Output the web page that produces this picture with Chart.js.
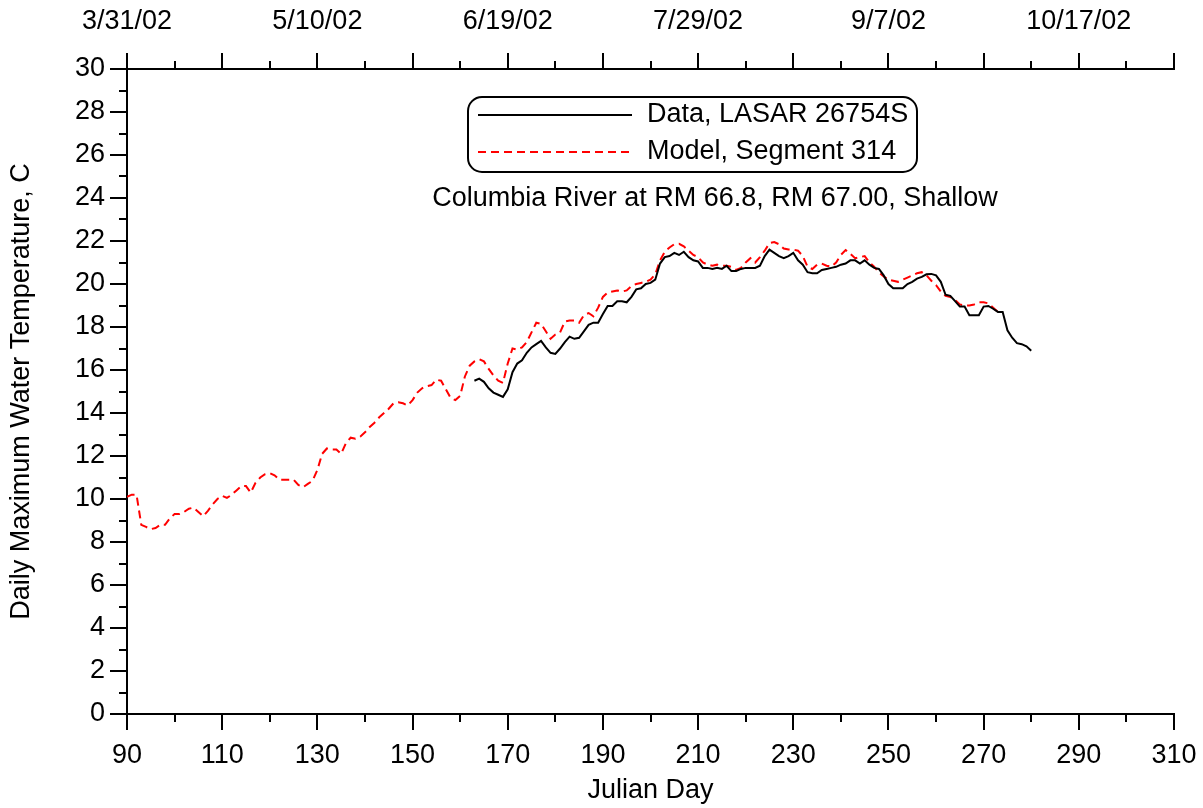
<!DOCTYPE html>
<html>
<head>
<meta charset="utf-8">
<title>Daily Maximum Water Temperature</title>
<script src="https://cdn.jsdelivr.net/npm/chart.js@4.4.1/dist/chart.umd.min.js"></script>
<style>
  html, body { margin: 0; padding: 0; background: #fff; }
  #wrap { width: 1203px; height: 808px; }
</style>
</head>
<body>
<div id="wrap"><canvas id="tempChart" width="1203" height="808"></canvas></div>
<script>
// Axis ticks
const dayTicks = [90, 110, 130, 150, 170, 190, 210, 230, 250, 270, 290, 310];
const dateTickDays = [90, 130, 170, 210, 250, 290];
const dateTickLabels = ['3/31/02', '5/10/02', '6/19/02', '7/29/02', '9/7/02', '10/17/02'];
const tempTicks = [0, 2, 4, 6, 8, 10, 12, 14, 16, 18, 20, 22, 24, 26, 28, 30];

// Model, Segment 314 - daily max, starting Julian day 90
const modelStartDay = 90;
const modelTemps = [
  10.1, 10.2, 10.2, 8.8, 8.7, 8.6, 8.65, 8.8, 8.8, 9.1,
  9.3, 9.3, 9.4, 9.55, 9.6, 9.4, 9.2, 9.45, 9.75, 10.0,
  10.15, 10.05, 10.2, 10.4, 10.6, 10.6, 10.3, 10.75, 11.0, 11.15,
  11.2, 11.1, 10.9, 10.9, 10.9, 10.9, 10.65, 10.55, 10.7, 10.85,
  11.35, 12.1, 12.35, 12.3, 12.3, 12.1, 12.6, 12.85, 12.8, 12.9,
  13.1, 13.35, 13.55, 13.8, 14.0, 14.2, 14.45, 14.5, 14.45, 14.35,
  14.6, 14.95, 15.15, 15.25, 15.3, 15.55, 15.5, 15.1, 14.7, 14.6,
  14.8, 15.7, 16.2, 16.4, 16.5, 16.4, 16.05, 15.75, 15.5, 15.4,
  16.3, 17.0, 16.95, 17.05, 17.3, 17.75, 18.2, 18.15, 17.8, 17.45,
  17.65, 17.75, 18.25, 18.3, 18.3, 18.2, 18.55, 18.65, 18.5, 18.9,
  19.4, 19.6, 19.65, 19.7, 19.65, 19.7, 19.9, 20.0, 20.05, 20.1,
  20.2, 20.45, 21.1, 21.5, 21.7, 21.85, 21.87, 21.75, 21.55, 21.35,
  21.25, 21.0, 20.9, 20.85, 20.9, 20.85, 20.85, 20.8, 20.65, 20.75,
  21.0, 21.2, 21.0, 21.25, 21.55, 21.9, 21.95, 21.85, 21.65, 21.6,
  21.6, 21.55, 21.3, 20.8, 20.7, 20.9, 20.95, 20.85, 20.8, 21.0,
  21.35, 21.58, 21.4, 21.2, 21.25, 21.3, 21.0, 20.8, 20.55, 20.35,
  20.2, 20.15, 20.1, 20.2, 20.3, 20.4, 20.5, 20.55, 20.4, 20.15,
  19.95, 19.65, 19.45, 19.4, 19.25, 19.05, 19.0, 19.0, 19.05, 19.15,
  19.15, 19.1, 18.9, 18.7
];

// Data, LASAR 26754S - daily max, starting Julian day 163
const dataStartDay = 163;
const dataTemps = [
  15.5, 15.6, 15.45, 15.15, 14.95, 14.85, 14.75, 15.1, 15.9, 16.3,
  16.45, 16.8, 17.05, 17.2, 17.35, 17.05, 16.8, 16.75, 17.0, 17.3,
  17.55, 17.45, 17.5, 17.8, 18.1, 18.2, 18.2, 18.6, 18.98, 18.98,
  19.2, 19.2, 19.15, 19.4, 19.75, 19.8, 20.0, 20.05, 20.2, 20.95,
  21.25, 21.3, 21.45, 21.35, 21.5, 21.25, 21.1, 21.05, 20.75, 20.75,
  20.7, 20.75, 20.7, 20.85, 20.6, 20.6, 20.7, 20.75, 20.75, 20.75,
  20.85, 21.3, 21.6, 21.45, 21.3, 21.2, 21.3, 21.45, 21.1, 20.9,
  20.55, 20.5, 20.5, 20.65, 20.7, 20.75, 20.8, 20.9, 20.95, 21.1,
  21.1, 20.95, 21.1, 20.9, 20.75, 20.7, 20.4, 20.0, 19.8, 19.8,
  19.8, 20.0, 20.1, 20.25, 20.33, 20.45, 20.47, 20.4, 20.1, 19.5,
  19.45, 19.2, 18.95, 18.95, 18.55, 18.55, 18.55, 18.95, 18.98, 18.85,
  18.7, 18.7, 17.85, 17.5, 17.25, 17.2, 17.1, 16.9
];

const seriesLabels = ['Data, LASAR 26754S', 'Model, Segment 314'];
const subtitle = 'Columbia River at RM 66.8, RM 67.00, Shallow';

const FONT = '"Liberation Sans", Arial, sans-serif';
const FONT_SIZE = 27;

function toPoints(startDay, temps) {
  return temps.map((t, i) => ({ x: startDay + i, y: t }));
}

// major / minor tick marks on left, bottom and top axes
const tickMarks = {
  id: 'tickMarks',
  afterDraw(chart) {
    const { ctx, chartArea: a, scales } = chart;
    ctx.save();
    ctx.strokeStyle = '#000';
    ctx.lineWidth = 2;
    ctx.beginPath();
    for (let v = 0; v <= 30; v++) {
      const py = Math.round(scales.y.getPixelForValue(v));
      const len = v % 2 === 0 ? 17 : 8;
      ctx.moveTo(a.left - len, py);
      ctx.lineTo(a.left, py);
    }
    for (let d = 90; d <= 310; d += 10) {
      const px = Math.round(scales.x.getPixelForValue(d));
      const len = (d - 90) % 20 === 0 ? 16 : 8;
      ctx.moveTo(px, a.bottom);
      ctx.lineTo(px, a.bottom + len);
      ctx.moveTo(px, a.top);
      ctx.lineTo(px, a.top - len);
    }
    ctx.stroke();
    ctx.restore();
  }
};

// rounded legend box and the location caption under it
const legendBox = {
  id: 'legendBox',
  afterDraw(chart) {
    const { ctx } = chart;
    const left = 468, top = 97, w = 449, h = 75;
    ctx.save();
    ctx.lineWidth = 2;
    ctx.strokeStyle = '#000';
    ctx.beginPath();
    ctx.roundRect(left, top, w, h, 14);
    ctx.stroke();
    ctx.font = FONT_SIZE + 'px ' + FONT;
    ctx.textBaseline = 'middle';
    chart.data.datasets.forEach((ds, i) => {
      const yy = top + 18 + i * 37;
      ctx.strokeStyle = ds.borderColor;
      ctx.setLineDash(ds.borderDash || []);
      ctx.beginPath();
      ctx.moveTo(478, yy);
      ctx.lineTo(632, yy);
      ctx.stroke();
      ctx.setLineDash([]);
      ctx.fillStyle = '#000';
      ctx.textAlign = 'left';
      ctx.fillText(ds.label, 647, yy);
    });
    ctx.textAlign = 'center';
    ctx.fillText(subtitle, 715, 199);
    ctx.restore();
  }
};

const axisFont = { family: FONT, size: FONT_SIZE };
const axisBorder = { display: true, color: '#000', width: 2 };

function fixHorizontal(height) {
  return s => {
    s.height = height;
    s.paddingLeft = 0;
    s.paddingRight = 0;
  };
}

new Chart(document.getElementById('tempChart'), {
  type: 'line',
  data: {
    datasets: [
      {
        label: seriesLabels[0],
        data: toPoints(dataStartDay, dataTemps),
        borderColor: '#000000',
        borderWidth: 2,
        pointRadius: 0,
        tension: 0,
        fill: false
      },
      {
        label: seriesLabels[1],
        data: toPoints(modelStartDay, modelTemps),
        borderColor: '#ff0000',
        borderDash: [8, 5],
        borderWidth: 2,
        pointRadius: 0,
        tension: 0,
        fill: false
      }
    ]
  },
  options: {
    responsive: false,
    animation: false,
    layout: { padding: { left: 0, right: 29, top: 0, bottom: 0 } },
    plugins: {
      legend: { display: false },
      tooltip: { enabled: false }
    },
    scales: {
      x: {
        type: 'linear',
        position: 'bottom',
        min: 90,
        max: 310,
        afterBuildTicks: s => { s.ticks = dayTicks.map(v => ({ value: v })); },
        afterFit: fixHorizontal(94),
        grid: { display: false, drawTicks: false },
        border: axisBorder,
        ticks: { color: '#000', font: axisFont, padding: 25, maxRotation: 0, autoSkip: false },
        title: {
          display: true,
          text: 'Julian Day',
          color: '#000',
          font: axisFont,
          padding: { top: 0, bottom: 1 }
        }
      },
      x2: {
        type: 'linear',
        position: 'top',
        min: 90,
        max: 310,
        afterBuildTicks: s => { s.ticks = dateTickDays.map(v => ({ value: v })); },
        afterFit: fixHorizontal(69),
        grid: { display: false, drawTicks: false },
        border: axisBorder,
        ticks: {
          color: '#000',
          font: axisFont,
          padding: 31,
          maxRotation: 0,
          autoSkip: false,
          callback: (v, i) => dateTickLabels[i]
        }
      },
      y: {
        type: 'linear',
        min: 0,
        max: 30,
        afterBuildTicks: s => { s.ticks = tempTicks.map(v => ({ value: v })); },
        afterFit: s => { s.width = 127; },
        grid: { display: false, drawTicks: false },
        border: axisBorder,
        ticks: { color: '#000', font: axisFont, padding: 22 },
        title: {
          display: true,
          text: 'Daily Maximum Water Temperature, C',
          color: '#000',
          font: axisFont,
          padding: { top: 5, bottom: 0 }
        }
      }
    }
  },
  plugins: [tickMarks, legendBox]
});
</script>
</body>
</html>
